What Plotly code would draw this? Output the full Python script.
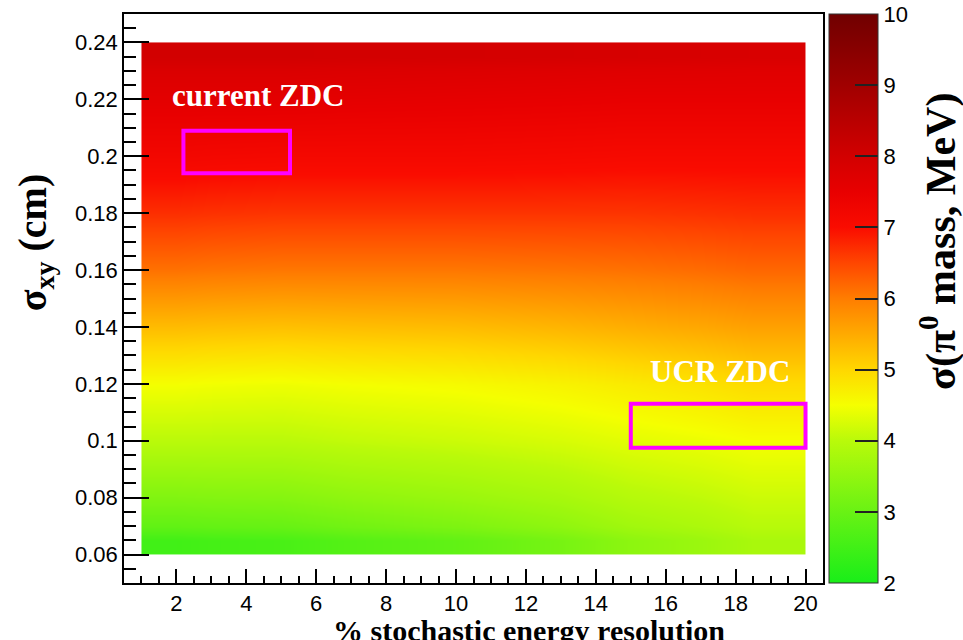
import plotly.graph_objects as go

# ---- data ----
x_edges = [1.0, 3.0, 7.0, 13.0, 17.0, 20.0]          # % stochastic energy resolution (cell edges)
y_edges = [0.06, 0.07, 0.09, 0.11, 0.13, 0.15, 0.17, 0.19, 0.21, 0.23, 0.24]  # sigma_xy (cm)
sigma_mass = [                                       # sigma(pi0 mass) in MeV, rows = y cells
    [2.50, 2.60, 2.90, 3.45, 3.80],
    [3.30, 3.35, 3.60, 3.95, 4.15],
    [4.00, 4.00, 4.15, 4.35, 4.50],
    [4.50, 4.45, 4.55, 4.75, 4.95],
    [5.30, 5.25, 5.30, 5.45, 5.60],
    [6.10, 6.05, 6.05, 6.10, 6.20],
    [6.70, 6.65, 6.65, 6.65, 6.70],
    [7.20, 7.15, 7.15, 7.10, 7.10],
    [7.60, 7.60, 7.55, 7.50, 7.50],
    [8.00, 8.00, 7.95, 7.90, 7.85],
]
box_labels = ["current ZDC", "UCR ZDC"]
box_x0 = [2.2, 15.0]
box_x1 = [5.25, 20.0]
box_y0 = [0.194, 0.0975]
box_y1 = [0.209, 0.113]
label_x = [1.81, 15.48]
label_y = [0.2212, 0.1245]

zmin, zmax = 2, 10
scale_pts = [
    (2.0, "rgb(25,238,25)"),
    (3.0, "rgb(105,242,20)"),
    (4.0, "rgb(185,250,10)"),
    (4.5, "rgb(245,255,0)"),
    (5.0, "rgb(255,215,0)"),
    (5.5, "rgb(255,170,0)"),
    (6.0, "rgb(255,125,0)"),
    (6.5, "rgb(255,70,0)"),
    (7.0, "rgb(250,12,0)"),
    (7.5, "rgb(232,0,0)"),
    (8.0, "rgb(210,0,0)"),
    (9.0, "rgb(160,0,0)"),
    (10.0, "rgb(112,0,0)"),
]
colorscale = [[(v - zmin) / (zmax - zmin), c] for v, c in scale_pts]

SERIF = "Liberation Serif"
SANS = "Liberation Sans"

fig = go.Figure()
fig.add_trace(go.Heatmap(
    x=x_edges, y=y_edges, z=sigma_mass,
    zmin=zmin, zmax=zmax, zsmooth="best",
    colorscale=colorscale,
    colorbar=dict(
        x=1.0086, xanchor="left", xpad=0,
        y=0.5, yanchor="middle", ypad=0,
        len=1, lenmode="fraction",
        thickness=49, thicknessmode="pixels",
        outlinewidth=1, outlinecolor="#333",
        ticks="inside", ticklen=23, tickwidth=1.5, tickcolor="#222",
        tickvals=[2, 3, 4, 5, 6, 7, 8, 9, 10],
        tickfont=dict(family=SANS, size=22, color="black"),
    ),
    hoverinfo="skip",
))

for i in range(len(box_labels)):
    fig.add_shape(type="rect", xref="x", yref="y",
                  x0=box_x0[i], x1=box_x1[i], y0=box_y0[i], y1=box_y1[i],
                  line=dict(color="#ff00ff", width=4))
    fig.add_annotation(x=label_x[i], y=label_y[i], xref="x", yref="y",
                       xanchor="left", yanchor="middle", showarrow=False,
                       text="<b>%s</b>" % box_labels[i],
                       font=dict(family=SERIF, size=31, color="white"))

# axis titles
fig.add_annotation(xref="paper", yref="paper", x=0.579, y=-0.083,
                   xanchor="center", yanchor="middle", showarrow=False,
                   text="<b>% stochastic energy resolution</b>",
                   font=dict(family=SERIF, size=30, color="black"))
fig.add_annotation(xref="paper", yref="paper", x=-0.128, y=0.598,
                   xanchor="center", yanchor="middle", showarrow=False, textangle=-90,
                   text="<b>σ<sub>xy</sub> (cm)</b>",
                   font=dict(family=SERIF, size=40, color="black"))
fig.add_annotation(xref="paper", yref="paper", x=1.165, y=0.6,
                   xanchor="center", yanchor="middle", showarrow=False, textangle=-90,
                   text="<b>σ(π<sup>0</sup> mass, MeV)</b>",
                   font=dict(family=SERIF, size=42, color="black"))

axis_common = dict(showline=True, linecolor="black", linewidth=1.5, mirror=True,
                   showgrid=False, zeroline=False, ticks="inside", tickcolor="black",
                   tickwidth=1.5, tickfont=dict(family=SANS, size=22, color="black"))
fig.update_xaxes(range=[0.5, 20.5], tick0=0, dtick=2, ticklen=14,
                 minor=dict(dtick=0.5, tick0=0, ticklen=7, ticks="inside",
                            tickcolor="black", tickwidth=1.5, showgrid=False),
                 **axis_common)
fig.update_yaxes(range=[0.05, 0.25], tick0=0, dtick=0.02, ticklen=25,
                 minor=dict(dtick=0.005, tick0=0, ticklen=12, ticks="inside",
                            tickcolor="black", tickwidth=1.5, showgrid=False),
                 **axis_common)

fig.update_layout(
    width=963, height=640,
    margin=dict(l=124, r=140, t=14, b=57),
    paper_bgcolor="white", plot_bgcolor="white",
    showlegend=False,
)

fig.write_html("out.html")
